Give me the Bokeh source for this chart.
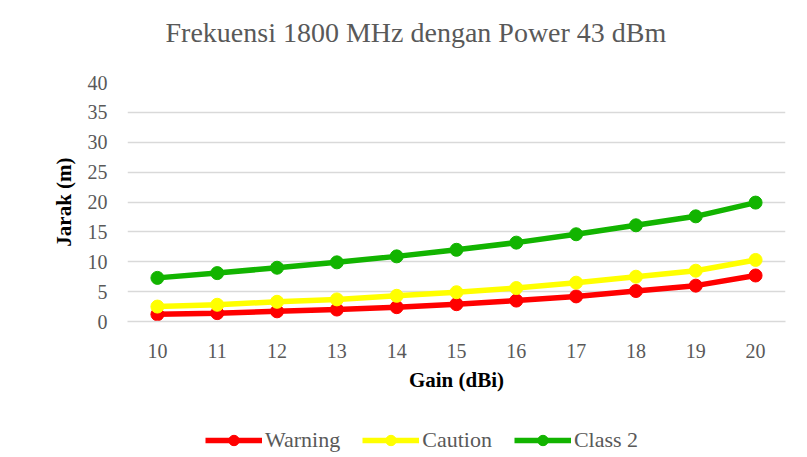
from bokeh.plotting import figure
from bokeh.layouts import column
from bokeh.models import Legend, LegendItem, FactorRange, Range1d, FixedTicker, Label
from bokeh.embed import file_html
from bokeh.resources import INLINE

# ---- data ----
gain = ["10", "11", "12", "13", "14", "15", "16", "17", "18", "19", "20"]
warning = [1.2, 1.4, 1.7, 2.0, 2.4, 2.9, 3.5, 4.2, 5.1, 6.0, 7.7]
caution = [2.5, 2.8, 3.3, 3.7, 4.3, 4.9, 5.6, 6.5, 7.5, 8.5, 10.3]
class2 = [7.3, 8.1, 9.0, 9.9, 10.9, 12.0, 13.2, 14.6, 16.1, 17.6, 19.9]
y_ticks = [0, 5, 10, 15, 20, 25, 30, 35, 40]
series_names = ["Warning", "Caution", "Class 2"]
colors = ["#ff0000", "#ffff00", "#12b400"]
title_text = "Frekuensi 1800 MHz dengan Power 43 dBm"

FONT = "Liberation Serif"
GREY = "#595959"

W, H0, H1, H2 = 807, 50, 350, 57

# title strip
t = figure(
    x_range=FactorRange(*gain), y_range=Range1d(0, 1),
    width=W, height=H0, output_backend="svg", toolbar_location=None,
    min_border=0,
)
t.axis.visible = False
t.grid.visible = False
t.outline_line_color = None
t.add_layout(Label(
    x=38, y=18, x_units="screen", y_units="screen", text=title_text,
    text_font=FONT, text_font_size="28px", text_color=GREY,
    text_align="left", text_baseline="middle",
))

# main chart
p = figure(
    x_range=FactorRange(*gain), y_range=Range1d(0, 40),
    width=W, height=H1, output_backend="svg", toolbar_location=None,
    min_border_left=127, min_border_right=W - 785, min_border_top=82 - H0,
    min_border_bottom=H0 + H1 - 321,
)
p.outline_line_color = None
p.background_fill_color = "white"
p.border_fill_color = "white"

p.xgrid.grid_line_color = None
p.ygrid.grid_line_color = "#d9d9d9"
p.ygrid.grid_line_width = 1.5
p.yaxis.ticker = FixedTicker(ticks=y_ticks)

for ax in (p.xaxis, p.yaxis):
    ax.major_tick_line_color = None
    ax.minor_tick_line_color = None
    ax.major_tick_out = 0
    ax.major_tick_in = 0
    ax.major_label_text_font = FONT
    ax.major_label_text_font_size = "20px"
    ax.major_label_text_color = GREY
    ax.axis_label_text_font = FONT
    ax.axis_label_text_font_size = "21px"
    ax.axis_label_text_font_style = "bold"
    ax.axis_label_text_color = "black"

p.yaxis.axis_line_color = None
p.xaxis.axis_line_color = "#d9d9d9"
p.xaxis.axis_line_width = 1.5
p.yaxis.major_label_standoff = 20
p.yaxis.axis_label_standoff = 9
p.xaxis.major_label_standoff = 22
p.xaxis.axis_label_standoff = 7
p.yaxis.axis_label = "Jarak (m)"
p.xaxis.axis_label = "Gain (dBi)"

for vals, c in zip([warning, caution, class2], colors):
    p.line(gain, vals, line_color=c, line_width=5.5)
    p.scatter(gain, vals, size=13, fill_color=c, line_color=c)

# legend strip (figure holding only the legend)
q = figure(
    x_range=FactorRange(*gain), y_range=Range1d(100, 200),
    width=W, height=H2, output_backend="svg", toolbar_location=None,
    min_border=0,
)
q.axis.visible = False
q.grid.visible = False
q.outline_line_color = None
items = []
for name, vals, c in zip(series_names, [warning, caution, class2], colors):
    l = q.line(gain, vals, line_color=c, line_width=5.5)
    s = q.scatter(gain, vals, size=13, fill_color=c, line_color=c)
    items.append(LegendItem(label=name, renderers=[l, s]))

legend = Legend(
    items=items, orientation="horizontal", location=(78, 4),
    glyph_width=57, glyph_height=26, label_standoff=3, spacing=22,
    padding=5, margin=0, border_line_color=None, background_fill_alpha=0,
    label_text_font=FONT, label_text_font_size="22px", label_text_color=GREY,
)
q.add_layout(legend, "center")

layout = column(t, p, q, spacing=0)
open("out.html", "w").write(file_html(layout, INLINE))
